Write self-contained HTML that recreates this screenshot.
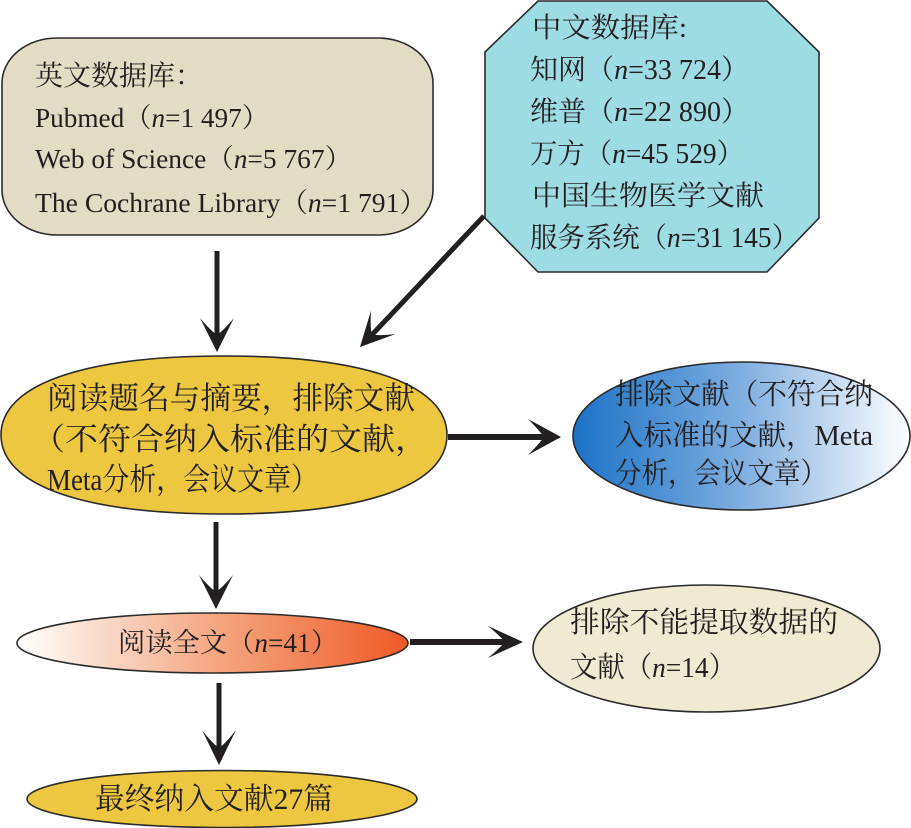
<!DOCTYPE html>
<html><head><meta charset="utf-8"><style>
html,body{margin:0;padding:0;background:#fff;}
svg{display:block;}
text{font-family:"Liberation Serif","Noto Serif CJK SC",serif;fill:#231f20;}
.i{font-style:italic;}
</style></head><body>
<svg width="911" height="828" viewBox="0 0 911 828" xmlns="http://www.w3.org/2000/svg">
<defs>
<linearGradient id="gb" x1="0" y1="0" x2="1" y2="0">
<stop offset="0" stop-color="#1a72c6"/><stop offset="0.5" stop-color="#7eaee0"/><stop offset="1" stop-color="#ffffff"/>
</linearGradient>
<linearGradient id="go" x1="0" y1="0" x2="1" y2="0">
<stop offset="0" stop-color="#ffffff"/><stop offset="0.5" stop-color="#f5a883"/><stop offset="1" stop-color="#ef5a26"/>
</linearGradient>
</defs>

<!-- English DB box -->
<rect x="2" y="38" width="431" height="197" rx="55" ry="45" fill="#e3dcc5" stroke="#2b2b2b" stroke-width="1.6"/>
<text x="35" y="85" font-size="28">英文数据库：</text>
<text x="35" y="127" font-size="27" textLength="234" lengthAdjust="spacingAndGlyphs">Pubmed（<tspan class="i">n</tspan>=1 497）</text>
<text x="35" y="168" font-size="27" textLength="317" lengthAdjust="spacingAndGlyphs">Web of Science（<tspan class="i">n</tspan>=5 767）</text>
<text x="35" y="212" font-size="27" textLength="392" lengthAdjust="spacingAndGlyphs">The Cochrane Library（<tspan class="i">n</tspan>=1 791）</text>

<!-- Chinese DB octagon -->
<polygon points="538,1 767,1 819,52 819,218 767,272 538,272 485,218 485,52" fill="#9ddce3" stroke="#2b2b2b" stroke-width="1.6"/>
<text x="532" y="37" font-size="28" textLength="155" lengthAdjust="spacingAndGlyphs">中文数据库:</text>
<text x="530" y="79" font-size="28" textLength="219" lengthAdjust="spacingAndGlyphs">知网（<tspan class="i">n</tspan>=33 724）</text>
<text x="530" y="121" font-size="28" textLength="219" lengthAdjust="spacingAndGlyphs">维普（<tspan class="i">n</tspan>=22 890）</text>
<text x="530" y="163" font-size="28" textLength="214" lengthAdjust="spacingAndGlyphs">万方（<tspan class="i">n</tspan>=45 529）</text>
<text x="532" y="205" font-size="28" textLength="232" lengthAdjust="spacingAndGlyphs">中国生物医学文献</text>
<text x="530" y="247" font-size="28" textLength="269" lengthAdjust="spacingAndGlyphs">服务系统（<tspan class="i">n</tspan>=31 145）</text>

<!-- arrows top -->
<line x1="217" y1="251" x2="217" y2="340" stroke="#231f20" stroke-width="5"/>
<path transform="translate(217,352)" d="M0,0 L-17,-34 Q-7,-22 0,-17 Q7,-22 17,-34 Z" fill="#231f20"/>
<line x1="484" y1="216" x2="368" y2="339" stroke="#231f20" stroke-width="5"/>
<path transform="translate(360,347) rotate(43.4)" d="M0,0 L-17,-34 Q-7,-22 0,-17 Q7,-22 17,-34 Z" fill="#231f20"/>

<!-- yellow screening ellipse -->
<path d="M1,435 C1,385 82,356 224,356 C366,356 447,385 447,435 C447,485 366,514 224,514 C82,514 1,485 1,435 Z" fill="#ecc73f" stroke="#2b2b2b" stroke-width="1.6"/>
<text x="47" y="409" font-size="31" textLength="368" lengthAdjust="spacingAndGlyphs">阅读题名与摘要，排除文献</text>
<text x="32" y="450" font-size="31" textLength="396" lengthAdjust="spacingAndGlyphs">（不符合纳入标准的文献，</text>
<text x="47" y="490" font-size="31" textLength="271" lengthAdjust="spacingAndGlyphs">Meta分析，会议文章）</text>

<!-- horizontal arrow 1 -->
<line x1="448" y1="437" x2="545" y2="437" stroke="#231f20" stroke-width="6"/>
<path transform="translate(561,437)" d="M0,0 L-33,-18 Q-22,-7 -17,0 Q-22,7 -33,18 Z" fill="#231f20"/>

<!-- blue ellipse -->
<ellipse cx="741.5" cy="436" rx="168.5" ry="74" fill="url(#gb)" stroke="#2b2b2b" stroke-width="1.6"/>
<text x="615" y="404" font-size="29" textLength="258" lengthAdjust="spacingAndGlyphs">排除文献（不符合纳</text>
<text x="615" y="445" font-size="29" textLength="258" lengthAdjust="spacingAndGlyphs">入标准的文献，Meta</text>
<text x="615" y="483" font-size="29" textLength="212" lengthAdjust="spacingAndGlyphs">分析，会议文章）</text>

<!-- arrow 2 vertical -->
<line x1="216" y1="522" x2="216" y2="597" stroke="#231f20" stroke-width="5"/>
<path transform="translate(216,609)" d="M0,0 L-17,-34 Q-7,-22 0,-17 Q7,-22 17,-34 Z" fill="#231f20"/>

<!-- orange ellipse -->
<ellipse cx="212.5" cy="643" rx="195.5" ry="30" fill="url(#go)" stroke="#2b2b2b" stroke-width="1.6"/>
<text x="118" y="652" font-size="27" textLength="220" lengthAdjust="spacingAndGlyphs">阅读全文（<tspan class="i">n</tspan>=41）</text>

<!-- horizontal arrow 2 -->
<line x1="410" y1="642" x2="508" y2="642" stroke="#231f20" stroke-width="6"/>
<path transform="translate(523,642)" d="M0,0 L-35,-16 Q-23,-6 -18,0 Q-23,6 -35,16 Z" fill="#231f20"/>

<!-- cream ellipse -->
<ellipse cx="706.5" cy="648.5" rx="173.5" ry="63.5" fill="#f0ead3" stroke="#2b2b2b" stroke-width="1.6"/>
<text x="570" y="632" font-size="29" textLength="268" lengthAdjust="spacingAndGlyphs">排除不能提取数据的</text>
<text x="570" y="677" font-size="29" textLength="166" lengthAdjust="spacingAndGlyphs">文献（<tspan class="i">n</tspan>=14）</text>

<!-- arrow 3 vertical -->
<line x1="219" y1="683" x2="219" y2="753" stroke="#231f20" stroke-width="5"/>
<path transform="translate(219,765)" d="M0,0 L-17,-35 Q-7,-22 0,-17 Q7,-22 17,-35 Z" fill="#231f20"/>

<!-- final ellipse -->
<ellipse cx="222" cy="799" rx="195" ry="28.5" fill="#ecc73f" stroke="#2b2b2b" stroke-width="1.6"/>
<text x="95" y="809" font-size="30" textLength="238" lengthAdjust="spacingAndGlyphs">最终纳入文献27篇</text>
</svg>
</body></html>
